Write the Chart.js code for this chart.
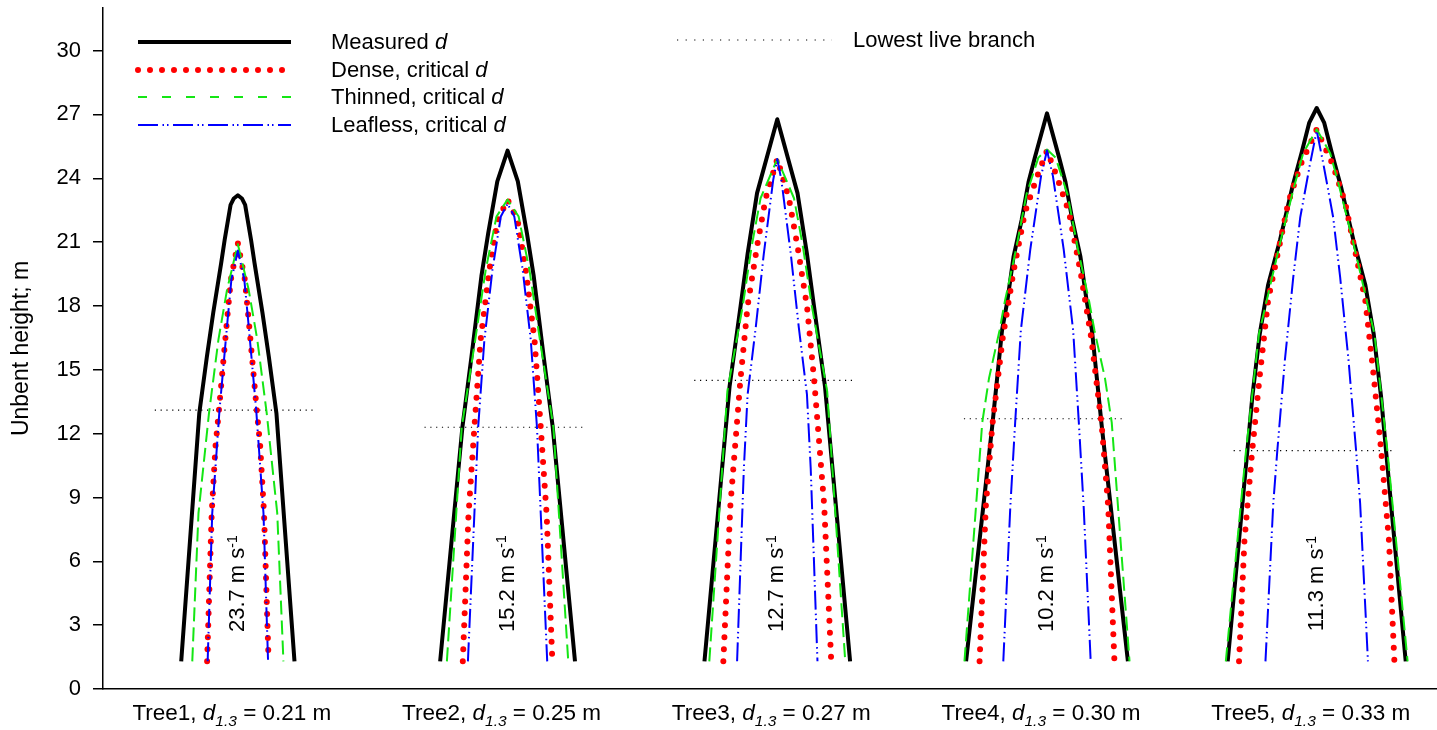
<!DOCTYPE html>
<html>
<head>
<meta charset="utf-8">
<script src="https://cdn.jsdelivr.net/npm/chart.js@4.4.1/dist/chart.umd.min.js"></script>
<style>
    html, body { margin: 0; padding: 0; background: #fff; }
    #wrap { width: 1437px; height: 730px; position: relative; }
</style>
</head>
<body>
<div id="wrap"><canvas id="stem-chart"></canvas></div>
<script>
// categories and labels
const treeNames = ['Tree1', 'Tree2', 'Tree3', 'Tree4', 'Tree5'];
const d13 = [0.21, 0.25, 0.27, 0.30, 0.33];
const windSpeed = [23.7, 15.2, 12.7, 10.2, 11.3];
const lowestLiveBranch = [13.1, 12.3, 14.5, 12.7, 11.2];
const yTicks = [0, 3, 6, 9, 12, 15, 18, 21, 24, 27, 30];

// stem profiles: heights (m) and diameters (m), one row per tree
const measuredHeights = [
    [1.3, 12.96, 15.6, 17.7, 20.0, 21.1, 22.75, 23.05, 23.2],
    [1.3, 12.3, 15.6, 19.4, 21.4, 23.85, 25.3],
    [1.3, 14.2, 18.0, 20.45, 23.3, 26.77],
    [1.3, 12.36, 16.85, 18.23, 20.31, 22.04, 23.85, 24.97, 27.05],
    [1.3, 11.2, 13.7, 16.7, 19.0, 21.1, 23.6, 25.2, 26.6, 27.3],
];
const measuredDiams = [
    [0.21, 0.143, 0.115, 0.091, 0.062, 0.049, 0.027, 0.015, 0],
    [0.25, 0.1675, 0.134, 0.097, 0.072, 0.038, 0],
    [0.27, 0.177, 0.136, 0.110, 0.075, 0],
    [0.30, 0.203, 0.1667, 0.147, 0.124, 0.094, 0.068, 0.045, 0],
    [0.33, 0.257, 0.239, 0.211, 0.18, 0.136, 0.09, 0.056, 0.028, 0],
];

const denseHeights = [
    [1.3, 8.26, 11.39, 13.12, 17.35, 19.23, 20.95],
    [1.3, 8.16, 12.3, 16.4, 19.7, 22.0, 23.0],
    [1.3, 8.61, 14.48, 18.0, 20.8, 23.06, 24.9],
    [1.3, 8.56, 12.36, 16.5, 19.62, 22.38, 24.1, 25.3],
    [1.3, 6.96, 11.21, 14.74, 18.28, 20.76, 22.88, 24.65, 26.3],
];
const denseDiams = [
    [0.114, 0.097, 0.083, 0.070, 0.040, 0.026, 0],
    [0.166, 0.145, 0.123, 0.10, 0.0675, 0.0375, 0],
    [0.20, 0.174, 0.137, 0.110, 0.075, 0.043, 0],
    [0.25, 0.227, 0.203, 0.164, 0.124, 0.082, 0.036, 0],
    [0.288, 0.268, 0.239, 0.211, 0.18, 0.1395, 0.105, 0.059, 0],
];

const thinnedHeights = [
    [1.3, 8.26, 12.96, 16.42, 18.77, 20.9],
    [1.3, 12.3, 16.4, 19.7, 22.2, 23.0],
    [1.3, 14.0, 18.0, 20.8, 23.06, 24.9],
    [1.3, 12.53, 14.6, 16.85, 18.23, 20.65, 23.24, 24.97, 25.35],
    [1.3, 11.21, 16.69, 21.11, 23.59, 25.18, 26.3],
];
const thinnedDiams = [
    [0.169, 0.146, 0.107, 0.072, 0.040, 0],
    [0.225, 0.17, 0.12, 0.081, 0.041, 0],
    [0.252, 0.185, 0.128, 0.095, 0.062, 0],
    [0.306, 0.24, 0.215, 0.176, 0.156, 0.115, 0.076, 0.032, 0],
    [0.337, 0.262, 0.214, 0.133, 0.084, 0.05, 0],
];

const leaflessHeights = [
    [1.3, 8.26, 13.12, 17.35, 19.23, 20.6],
    [1.3, 12.3, 16.4, 19.7, 22.2, 22.8],
    [1.3, 10.35, 13.84, 16.97, 20.45, 23.93, 24.9],
    [1.3, 8.56, 12.53, 16.85, 20.65, 24.1, 25.3],
    [1.3, 8.73, 11.21, 15.45, 19.34, 22.17, 24.65, 26.24],
];
const leaflessDiams = [
    [0.112, 0.095, 0.068, 0.038, 0.024, 0],
    [0.147, 0.109, 0.086, 0.056, 0.025, 0],
    [0.149, 0.124, 0.11, 0.080, 0.050, 0.015, 0],
    [0.162, 0.136, 0.118, 0.097, 0.062, 0.022, 0],
    [0.19, 0.161, 0.146, 0.118, 0.087, 0.061, 0.025, 0],
];

const FONT = '"Liberation Sans", Arial, Helvetica, sans-serif';
const SLOT = 0.5; // m of x axis per tree
const treeCenter = i => SLOT * i + SLOT / 2;

// left edge up to the tip, right edge back down, gap before the next tree
function profilePoints(heights, diams) {
    const pts = [];
    heights.forEach((hs, t) => {
        const c = treeCenter(t);
        const ds = diams[t];
        for (let i = 0; i < hs.length; i++) pts.push({ x: c - ds[i] / 2, y: hs[i] });
        for (let i = hs.length - 2; i >= 0; i--) pts.push({ x: c + ds[i] / 2, y: hs[i] });
        pts.push({ x: c, y: null });
    });
    return pts;
}

function branchPoints() {
    const pts = [];
    lowestLiveBranch.forEach((h, t) => {
        const c = treeCenter(t);
        pts.push({ x: c - 0.154, y: h }, { x: c + 0.14, y: h }, { x: c, y: null });
    });
    return pts;
}

const styles = {
    measured: { color: '#000000', width: 4, dash: [], cap: 'butt' },
    dense: { color: '#ff0000', width: 6, dash: [0, 12], cap: 'round' },
    thinned: { color: '#14e614', width: 2, dash: [14, 6], cap: 'butt' },
    leafless: { color: '#0000ff', width: 2, dash: [19, 4, 1.5, 3.5, 1.5, 4], cap: 'butt' },
    branch: { color: '#000000', width: 1.2, dash: [1.2, 4.6], cap: 'butt' },
};

function lineDataset(label, data, st, order) {
    return {
        label,
        data,
        showLine: true,
        borderColor: st.color,
        backgroundColor: st.color,
        borderWidth: st.width,
        borderDash: st.dash,
        borderCapStyle: st.cap,
        borderJoinStyle: 'round',
        pointRadius: 0,
        tension: 0,
        spanGaps: false,
        order,
    };
}

function drawRich(ctx, parts, x, y) {
    let total = 0;
    parts.forEach(p => {
        ctx.font = (p.italic ? 'italic ' : '') + p.size + 'px ' + FONT;
        p.w = ctx.measureText(p.text).width;
        total += p.w;
    });
    let cx = x - total / 2;
    parts.forEach(p => {
        ctx.font = (p.italic ? 'italic ' : '') + p.size + 'px ' + FONT;
        ctx.fillText(p.text, cx, y + (p.dy || 0));
        cx += p.w;
    });
}

function strokeSample(ctx, st, x0, x1, y, dash) {
    ctx.save();
    ctx.strokeStyle = st.color;
    ctx.lineWidth = st.width;
    ctx.lineCap = st.cap;
    ctx.setLineDash(dash || st.dash);
    ctx.beginPath();
    ctx.moveTo(x0, y);
    ctx.lineTo(x1, y);
    ctx.stroke();
    ctx.restore();
}

const annotations = {
    id: 'annotations',
    afterDraw(chart) {
        const { ctx, scales: { x, y } } = chart;
        ctx.save();
        ctx.fillStyle = '#000';

        // category labels under each tree
        ctx.textBaseline = 'alphabetic';
        treeNames.forEach((name, i) => {
            drawRich(ctx, [
                { text: name + ', ', size: 22.5 },
                { text: 'd', size: 22.5, italic: true },
                { text: '1.3', size: 15.5, italic: true, dy: 6 },
                { text: ' = ' + d13[i].toFixed(2) + ' m', size: 22.5 },
            ], x.getPixelForValue(treeCenter(i)) - 6, 720);
        });

        // wind speed inside each stem
        ctx.textBaseline = 'middle';
        windSpeed.forEach((w, i) => {
            ctx.save();
            ctx.translate(x.getPixelForValue(treeCenter(i)), y.getPixelForValue(4.95));
            ctx.rotate(-Math.PI / 2);
            drawRich(ctx, [
                { text: w.toFixed(1) + ' m s', size: 22 },
                { text: '-1', size: 14, dy: -5 },
            ], 0, 0);
            ctx.restore();
        });

        // legend
        const rows = [
            ['measured', 'Measured '],
            ['dense', 'Dense, critical '],
            ['thinned', 'Thinned, critical '],
            ['leafless', 'Leafless, critical '],
        ];
        const rowY = [42, 70, 97, 125];
        const legendDash = { thinned: [9, 15], leafless: [20, 4.5, 1.5, 3, 1.5, 4.5] };
        rows.forEach(([key, text], i) => {
            strokeSample(ctx, styles[key], 138, 291, rowY[i], legendDash[key]);
            ctx.textAlign = 'left';
            ctx.font = '22px ' + FONT;
            ctx.fillText(text, 331, rowY[i] + 1);
            const w = ctx.measureText(text).width;
            ctx.font = 'italic 22px ' + FONT;
            ctx.fillText('d', 331 + w, rowY[i] + 1);
        });
        strokeSample(ctx, styles.branch, 677, 832, 40, [1.2, 7.4]);
        ctx.font = '22px ' + FONT;
        ctx.fillText('Lowest live branch', 853, 41);
        ctx.restore();
    },
};

new Chart(document.getElementById('stem-chart'), {
    type: 'scatter',
    data: {
        datasets: [
            lineDataset('Leafless, critical d', profilePoints(leaflessHeights, leaflessDiams), styles.leafless, 0),
            lineDataset('Thinned, critical d', profilePoints(thinnedHeights, thinnedDiams), styles.thinned, 1),
            lineDataset('Dense, critical d', profilePoints(denseHeights, denseDiams), styles.dense, 2),
            lineDataset('Measured d', profilePoints(measuredHeights, measuredDiams), styles.measured, 3),
            lineDataset('Lowest live branch', branchPoints(), styles.branch, 4),
        ],
    },
    options: {
        responsive: true,
        maintainAspectRatio: false,
        animation: false,
        devicePixelRatio: 1,
        layout: { padding: { top: 8, right: 0, bottom: 0, left: 0 } },
        plugins: { legend: { display: false }, tooltip: { enabled: false } },
        scales: {
            x: {
                type: 'linear',
                min: 0,
                max: 2.473,
                grid: { display: false },
                ticks: { display: false },
                border: { display: true, color: '#000', width: 1.5 },
                afterFit: s => { s.height = 41; s.paddingLeft = 0; s.paddingRight = 0; },
            },
            y: {
                type: 'linear',
                min: 0,
                max: 32,
                afterBuildTicks: s => { s.ticks = yTicks.map(v => ({ value: v })); },
                ticks: { color: '#000', font: { size: 22, family: FONT }, padding: 12 },
                grid: { drawOnChartArea: false, drawTicks: true, tickLength: 10, color: '#000', lineWidth: 1.5 },
                border: { display: true, color: '#000', width: 1.5 },
                title: {
                    display: true,
                    text: 'Unbent height; m',
                    color: '#000',
                    font: { size: 23, family: FONT },
                    padding: { top: 8, bottom: 0 },
                },
                afterFit: s => { s.width = 103; s.paddingTop = 0; s.paddingBottom = 0; },
            },
        },
    },
    plugins: [annotations],
});
</script>
</body>
</html>
